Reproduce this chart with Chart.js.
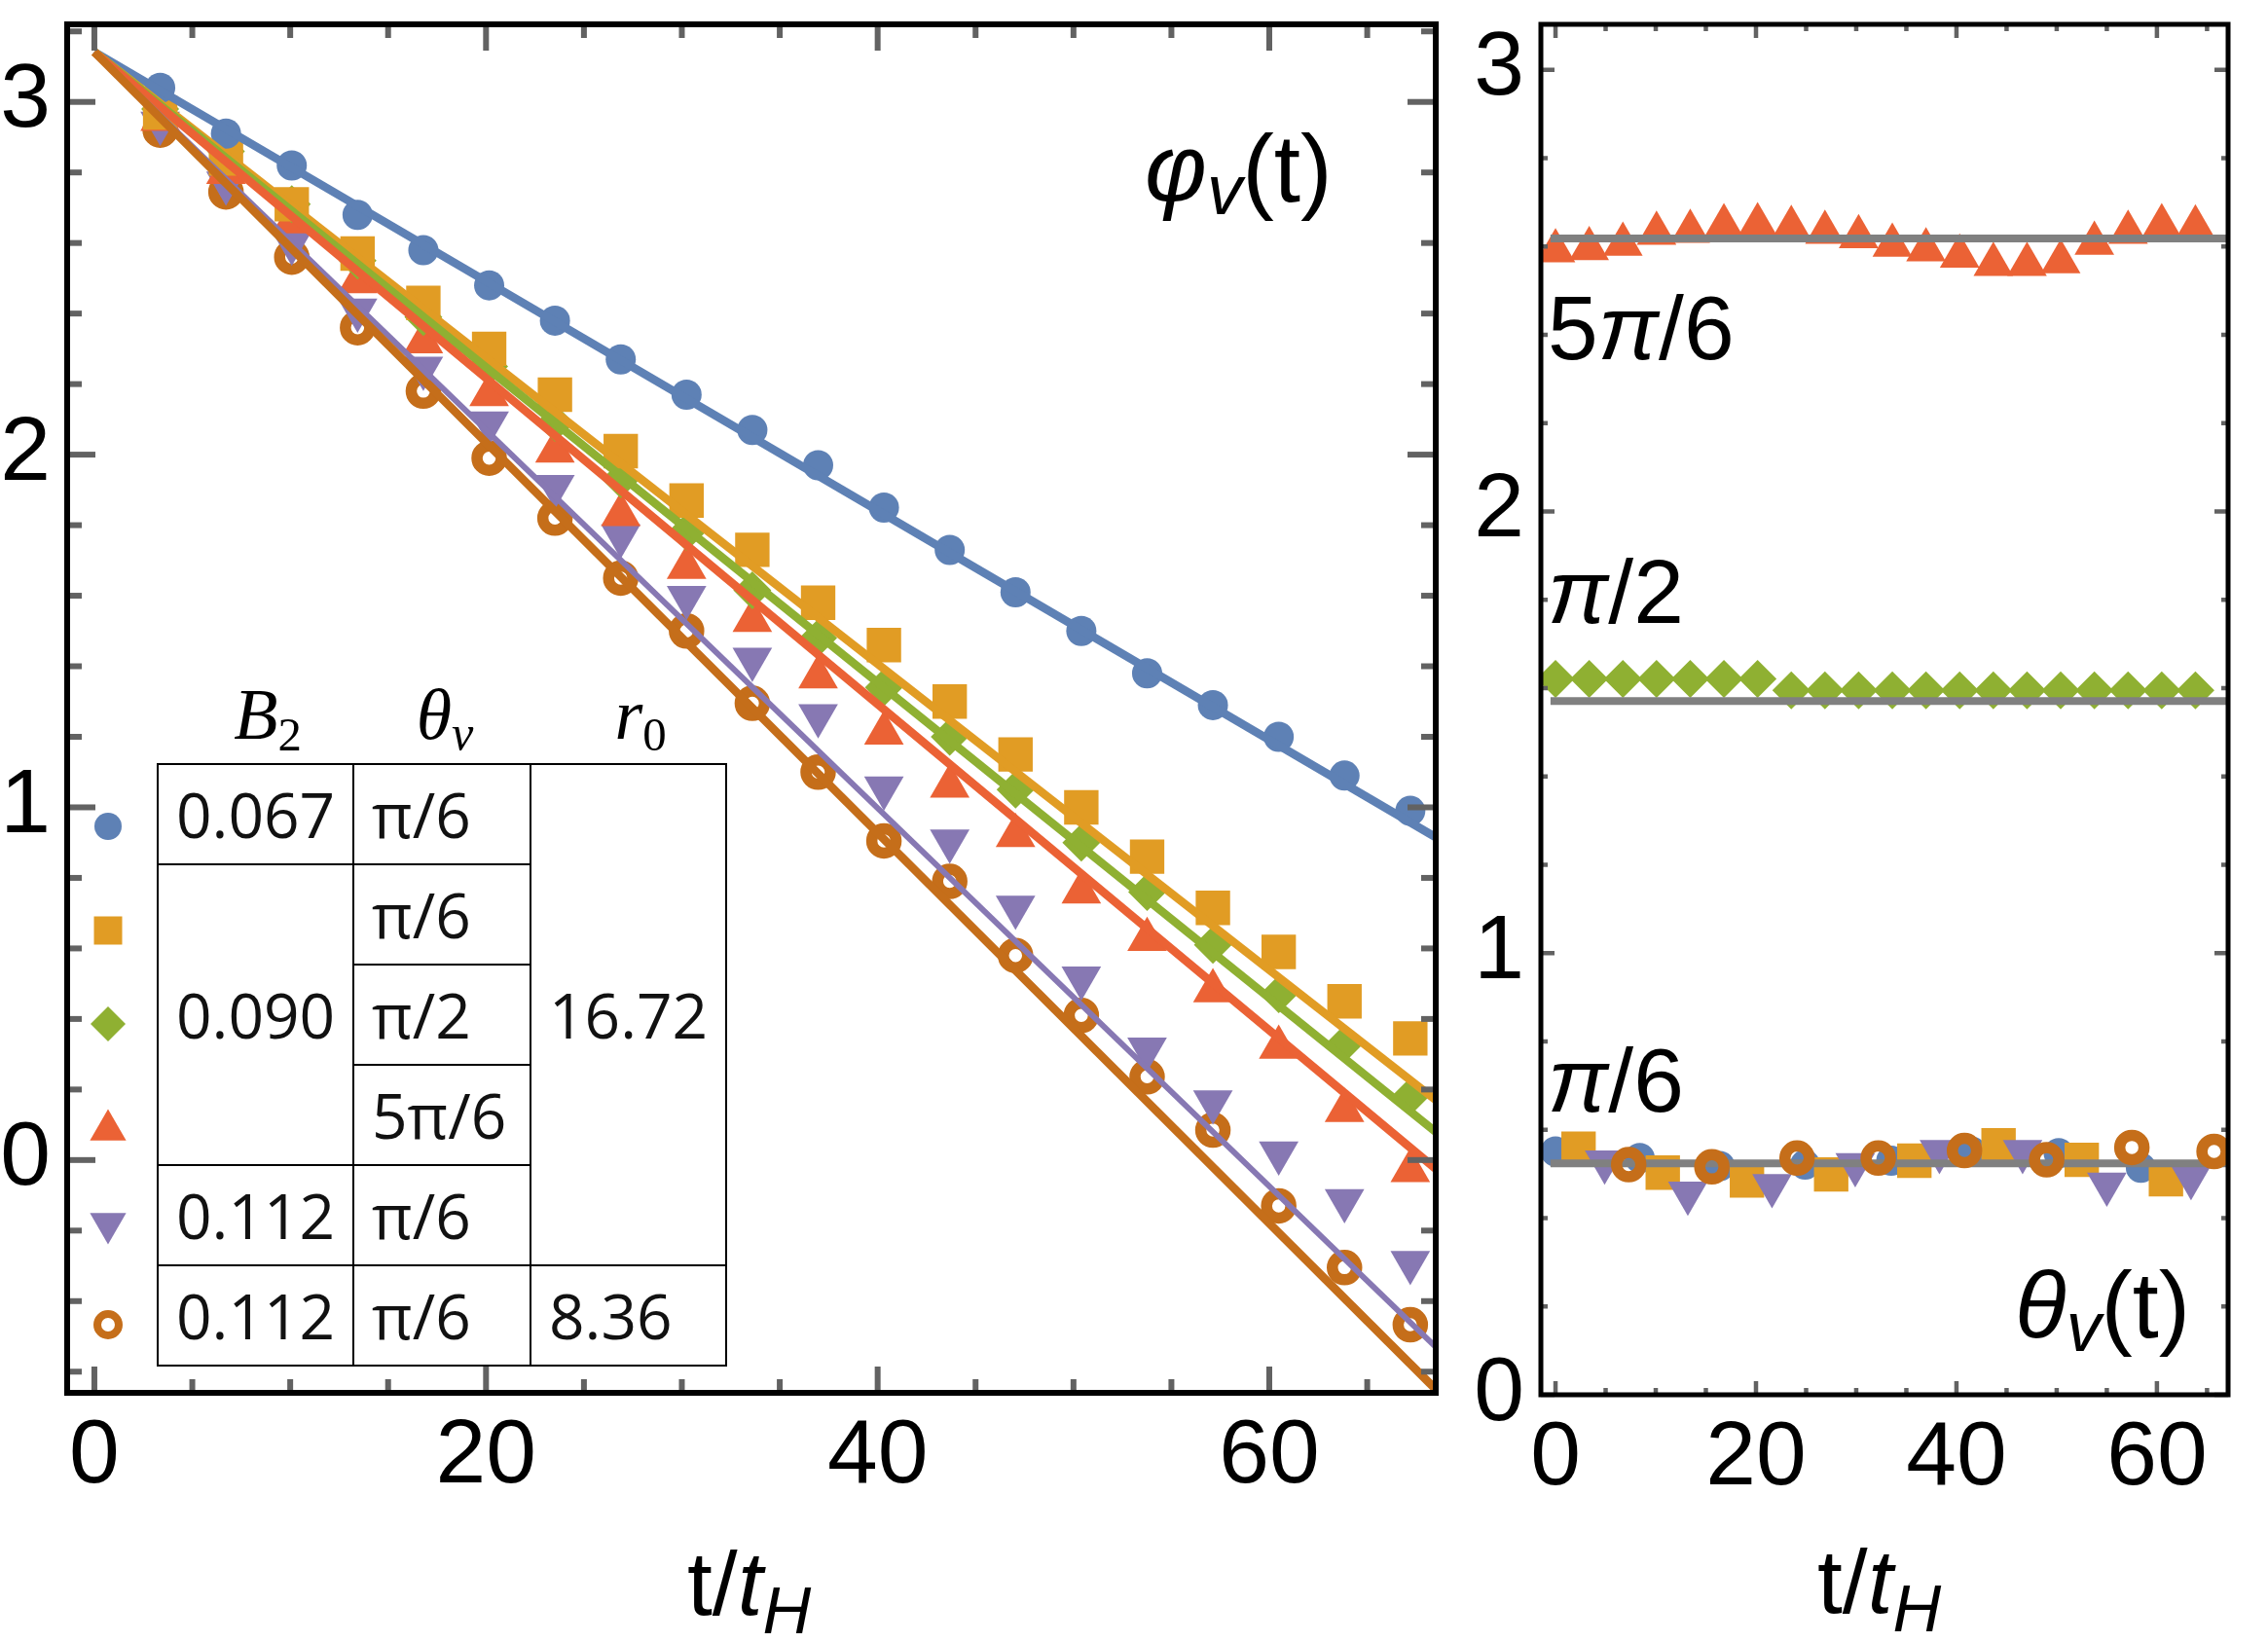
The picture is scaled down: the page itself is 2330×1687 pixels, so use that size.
<!DOCTYPE html>
<html>
<head>
<meta charset="utf-8">
<script src="https://cdn.jsdelivr.net/npm/chart.js"></script>
<style>
  html, body { margin: 0; padding: 0; background: #fff; }
  #wrap { position: relative; width: 2330px; height: 1687px; overflow: hidden; background: #fff; }
  #wrap canvas { position: absolute; top: 0; }
  .lbl { position: absolute; font-family: 'Liberation Sans', Arial, sans-serif; line-height: 1; white-space: nowrap; color: #000; }
  .sub { font-size: 0.74em; position: relative; top: 0.28em; }
  #tbl { position: absolute; left: 161px; top: 784px; border-collapse: collapse; table-layout: fixed;
         font-family: 'Open Sans', sans-serif; font-size: 64px; color: #111; }
  #tbl td { border: 2px solid #000; height: 101px; padding: 0 0 0 18px; vertical-align: middle; line-height: 1; }
  .hd { position: absolute; font-family: 'Liberation Serif', 'DejaVu Serif', serif; font-style: italic; font-size: 74px;
        line-height: 1; width: 140px; text-align: center; top: 697px; }
  .hd span { font-style: normal; font-size: 0.66em; position: relative; top: 0.24em; }
</style>
</head>
<body>
<div id="wrap">
  <canvas id="phiChart" width="1500" height="1687" style="left:0"></canvas>
  <canvas id="thetaChart" width="830" height="1687" style="left:1500px"></canvas>

  <div class="lbl" style="left:706px; top:1581px; font-size:93px;">t/<i>t</i><i class="sub">H</i></div>
  <div class="lbl" style="left:1867px; top:1579px; font-size:93px;">t/<i>t</i><i class="sub">H</i></div>

  <div class="lbl" style="left:1176px; top:124px; font-size:98px;"><i>φ</i><i class="sub" style="font-size:0.74em; top:0.18em">v</i>(t)</div>
  <div class="lbl" style="left:2070px; top:1292px; font-size:97px;"><i>θ</i><i class="sub" style="font-size:0.74em; top:0.2em">v</i>(t)</div>

  <div class="lbl" style="left:1590px; top:291px; font-size:93px;">5<i>π</i>/6</div>
  <div class="lbl" style="left:1590px; top:562px; font-size:93px;"><i>π</i>/2</div>
  <div class="lbl" style="left:1590px; top:1064px; font-size:93px;"><i>π</i>/6</div>

  <div class="hd" style="left:205px;">B<span>2</span></div>
  <div class="hd" style="left:387px;"><i>θ</i><i style="font-size:0.68em; position:relative; top:0.22em">v</i></div>
  <div class="hd" style="left:588px;">r<span>0</span></div>

  <table id="tbl">
    <colgroup><col style="width:201px"><col style="width:182px"><col style="width:201px"></colgroup>
    <tr><td>0.067</td><td>π/6</td><td rowspan="5">16.72</td></tr>
    <tr><td rowspan="3">0.090</td><td>π/6</td></tr>
    <tr><td>π/2</td></tr>
    <tr><td>5π/6</td></tr>
    <tr><td>0.112</td><td>π/6</td></tr>
    <tr><td>0.112</td><td>π/6</td><td>8.36</td></tr>
  </table>
</div>

<script>
// ---- left panel: phi_v(t) ----
const tPhi = [3.36, 6.72, 10.08, 13.44, 16.8, 20.16, 23.52, 26.88, 30.24, 33.6,
              36.96, 40.32, 43.68, 47.04, 50.4, 53.76, 57.12, 60.48, 63.84, 67.2];
const phiB067 = [3.04, 2.91, 2.82, 2.68, 2.58, 2.48, 2.38, 2.27, 2.17, 2.07,
                 1.97, 1.85, 1.73, 1.61, 1.50, 1.38, 1.29, 1.20, 1.09, 0.99];
const phiB090pi6 = [2.97, 2.84, 2.71, 2.57, 2.43, 2.30, 2.17, 2.01, 1.87, 1.73,
                    1.58, 1.46, 1.30, 1.15, 1.00, 0.86, 0.715, 0.59, 0.45, 0.345];
const phiB090pi2 = [2.98, 2.86, 2.71, 2.55, 2.39, 2.25, 2.09, 1.93, 1.78, 1.615,
                    1.48, 1.34, 1.20, 1.05, 0.90, 0.76, 0.61, 0.47, 0.33, 0.18];
const phiB0905pi6 = [2.95, 2.80, 2.66, 2.49, 2.32, 2.17, 2.01, 1.83, 1.68, 1.53,
                     1.37, 1.21, 1.06, 0.92, 0.76, 0.625, 0.48, 0.32, 0.14, -0.03];
const phiB112 = [2.94, 2.77, 2.60, 2.41, 2.245, 2.09, 1.91, 1.77, 1.595, 1.42,
                 1.26, 1.055, 0.905, 0.717, 0.516, 0.315, 0.165, 0.02, -0.115, -0.29];
const phiB112r836 = [2.92, 2.745, 2.56, 2.36, 2.18, 1.99, 1.82, 1.65, 1.50, 1.295,
                     1.10, 0.905, 0.79, 0.58, 0.41, 0.236, 0.085, -0.13, -0.305, -0.467];
// fitted lines: from (0, pi) to the right edge
const fitT = [0, 68.5];
const fitStart = 3.1416;
const fitEnd = [0.915, 0.17, 0.08, -0.025, -0.53, -0.65];

// ---- right panel: theta_v(t) ----
const tTheta = [0, 3.36, 6.72, 10.08, 13.44, 16.8, 20.16, 23.52, 26.88, 30.24,
                33.6, 36.96, 40.32, 43.68, 47.04, 50.4, 53.76, 57.12, 60.48, 63.84];
const thetaB0905pi6 = [2.590, 2.595, 2.605, 2.630, 2.634, 2.647, 2.649, 2.643, 2.632, 2.622,
                       2.603, 2.592, 2.578, 2.559, 2.559, 2.565, 2.607, 2.632, 2.647, 2.644];
const thetaB090pi2 = [1.621, 1.621, 1.621, 1.621, 1.621, 1.621, 1.621, 1.595, 1.595, 1.595,
                      1.595, 1.595, 1.595, 1.595, 1.595, 1.595, 1.595, 1.595, 1.595, 1.595];
const tThB067 = [0, 8.4, 16.4, 24.9, 33.5, 41.5, 50.2, 58.4];
const thetaB067 = [0.551, 0.536, 0.518, 0.521, 0.530, 0.551, 0.547, 0.514];
const tThB090 = [2.3, 10.7, 19.1, 27.5, 35.8, 44.2, 52.5, 60.9];
const thetaB090pi6 = [0.557, 0.503, 0.485, 0.499, 0.530, 0.565, 0.532, 0.488];
const tThB112 = [4.9, 13.2, 21.6, 29.9, 38.3, 46.6, 55.0, 63.4];
const thetaB112 = [0.527, 0.457, 0.474, 0.521, 0.551, 0.551, 0.477, 0.492];
const tThB112r = [7.3, 15.6, 24.1, 32.2, 40.8, 49.0, 57.5, 65.7];
const thetaB112r836 = [0.521, 0.516, 0.536, 0.536, 0.553, 0.532, 0.560, 0.551];
const refT = [-0.5, 67.1];
const thetaRef = [2.618, 1.571, 0.524]; // 5pi/6, pi/2, pi/6

const BLUE = '#5E81B5', ORANGE = '#E19C24', GREEN = '#8FB032',
      RED = '#EB6235', PURPLE = '#8778B3', BROWN = '#C56E1A';
const COLORS = [BLUE, ORANGE, GREEN, RED, PURPLE, BROWN];

const pts = (xs, ys) => xs.map((x, i) => ({ x: x, y: ys[i] }));

const markerStyles = [
  { pointStyle: 'circle', pointRadius: 15.5, pointBackgroundColor: BLUE, pointBorderWidth: 0 },
  { pointStyle: 'rect', pointRadius: 25, pointBackgroundColor: ORANGE, pointBorderWidth: 0 },
  { pointStyle: 'rectRot', pointRadius: 19.5, pointBackgroundColor: GREEN, pointBorderWidth: 0 },
  { pointStyle: 'triangle', pointRadius: 23.5, pointBackgroundColor: RED, pointBorderWidth: 0 },
  { pointStyle: 'triangle', pointRotation: 180, pointRadius: 23.5, pointBackgroundColor: PURPLE, pointBorderWidth: 0 },
  { pointStyle: 'circle', pointRadius: 12.5, pointBackgroundColor: 'rgba(0,0,0,0)', pointBorderColor: BROWN, pointBorderWidth: 11.5 }
];

function markerSet(data, k, order) {
  return Object.assign({ data: data, showLine: false, order: order }, markerStyles[k]);
}

// inward tick marks on all four sides plus a black frame
const frameTicks = {
  id: 'frameTicks',
  afterDatasetsDraw(chart, args, o) {
    const { ctx, chartArea: a, scales: { x, y } } = chart;
    ctx.save();
    ctx.strokeStyle = '#626262';
    ctx.lineWidth = o.tickWidth;
    const seg = (x1, y1, x2, y2) => { ctx.beginPath(); ctx.moveTo(x1, y1); ctx.lineTo(x2, y2); ctx.stroke(); };
    x.ticks.forEach(t => {
      const p = x.getPixelForValue(t.value);
      const len = Math.abs(t.value % 20) < 1e-6 ? o.xMajor : o.xMinor;
      seg(p, a.bottom, p, a.bottom - len);
      seg(p, a.top, p, a.top + len);
    });
    y.ticks.forEach(t => {
      const p = y.getPixelForValue(t.value);
      const len = Math.abs(t.value - Math.round(t.value)) < 1e-6 ? o.yMajor : o.yMinor;
      seg(a.left, p, a.left + len, p);
      seg(a.right, p, a.right - len, p);
    });
    ctx.strokeStyle = '#000';
    ctx.lineWidth = o.frame;
    ctx.strokeRect(a.left, a.top, a.right - a.left, a.bottom - a.top);
    ctx.restore();
  }
};

// legend symbols next to the parameter table
const legendX = 111;
const legendY = [849, 956, 1052, 1161, 1257, 1361];
const legendStyles = [
  { pointStyle: 'circle', radius: 14, borderWidth: 0 },
  { pointStyle: 'rect', radius: 20.5, borderWidth: 0 },
  { pointStyle: 'rectRot', radius: 18, borderWidth: 0 },
  { pointStyle: 'triangle', radius: 21.5, borderWidth: 0 },
  { pointStyle: 'triangle', radius: 21.5, rotation: 180, borderWidth: 0 },
  { pointStyle: 'circle', radius: 11, borderWidth: 8, open: true }
];
const legendMarks = {
  id: 'legendMarks',
  afterDraw(chart) {
    const ctx = chart.ctx;
    legendStyles.forEach((s, i) => {
      ctx.save();
      ctx.fillStyle = s.open ? 'rgba(0,0,0,0)' : COLORS[i];
      ctx.strokeStyle = COLORS[i];
      ctx.lineWidth = s.borderWidth;
      Chart.helpers.drawPoint(ctx, { pointStyle: s.pointStyle, radius: s.radius, rotation: s.rotation || 0, borderWidth: s.borderWidth }, legendX, legendY[i]);
      ctx.restore();
    });
  }
};

const tickFont = { family: "'Liberation Sans', Arial, sans-serif", size: 93 };

function scales(xr, yr, yWidth, xHeight) {
  return {
    x: {
      type: 'linear', min: xr[0], max: xr[1],
      afterFit: s => { s.height = xHeight; s.paddingLeft = 0; s.paddingRight = 0; },
      grid: { display: false, drawTicks: false }, border: { display: false },
      ticks: { stepSize: 5, autoSkip: false, includeBounds: false, maxRotation: 0, padding: 11,
               font: tickFont, color: '#000',
               callback: v => Math.abs(v % 20) < 1e-6 ? String(Math.round(v)) : '' }
    },
    y: {
      type: 'linear', min: yr[0], max: yr[1],
      afterFit: s => { s.width = yWidth; s.paddingTop = 0; s.paddingBottom = 0; },
      grid: { display: false, drawTicks: false }, border: { display: false },
      ticks: { stepSize: 0.2, autoSkip: false, includeBounds: false, crossAlign: 'center', padding: 17,
               font: tickFont, color: '#000',
               callback: v => Math.abs(v - Math.round(v)) < 1e-6 ? String(Math.round(v)) : '' }
    }
  };
}

const commonPlugins = { legend: { display: false }, tooltip: { enabled: false } };

// left chart
const phiSeries = [phiB067, phiB090pi6, phiB090pi2, phiB0905pi6, phiB112, phiB112r836];
const phiDatasets = [];
phiSeries.forEach((s, k) => {
  phiDatasets.push({
    data: pts(fitT, [fitStart, fitEnd[k]]), showLine: true, pointRadius: 0,
    borderColor: COLORS[k], borderWidth: k === 4 ? 6 : 8.5, order: 5 - k
  });
});
phiSeries.forEach((s, k) => phiDatasets.push(markerSet(pts(tPhi, s), k, 10)));

new Chart(document.getElementById('phiChart'), {
  type: 'scatter',
  data: { datasets: phiDatasets },
  options: {
    responsive: false, animation: false, devicePixelRatio: 1,
    layout: { padding: { left: 0, top: 19, right: 19, bottom: 0 } },
    scales: scales([-1.39, 68.5], [-0.66, 3.22], 69, 256),
    plugins: Object.assign({ frameTicks: { tickWidth: 6, xMajor: 27, xMinor: 14, yMajor: 29, yMinor: 15, frame: 6 } }, commonPlugins)
  },
  plugins: [frameTicks, legendMarks]
});

// right chart
const thetaDatasets = thetaRef.map(v => ({
  data: pts(refT, [v, v]), showLine: true, pointRadius: 0,
  borderColor: '#808080', borderWidth: 8, order: 1
}));
thetaDatasets.push(markerSet(pts(tTheta, thetaB0905pi6), 3, 2));
thetaDatasets.push(markerSet(pts(tTheta, thetaB090pi2), 2, 2));
thetaDatasets.push(markerSet(pts(tThB067, thetaB067), 0, 4));
thetaDatasets.push(markerSet(pts(tThB090, thetaB090pi6), 1, 3));
thetaDatasets.push(markerSet(pts(tThB112, thetaB112), 4, 2));
thetaDatasets.push(markerSet(pts(tThB112r, thetaB112r836), 5, 0));

new Chart(document.getElementById('thetaChart'), {
  type: 'scatter',
  data: { datasets: thetaDatasets },
  options: {
    responsive: false, animation: false, devicePixelRatio: 1,
    layout: { padding: { left: 0, top: 17, right: 41, bottom: 0 } },
    scales: scales([-1.46, 67.1], [0, 3.103], 83, 254),
    plugins: Object.assign({ frameTicks: { tickWidth: 4.5, xMajor: 14, xMinor: 7, yMajor: 14, yMinor: 7, frame: 5 } }, commonPlugins)
  },
  plugins: [frameTicks]
});
</script>
</body>
</html>
